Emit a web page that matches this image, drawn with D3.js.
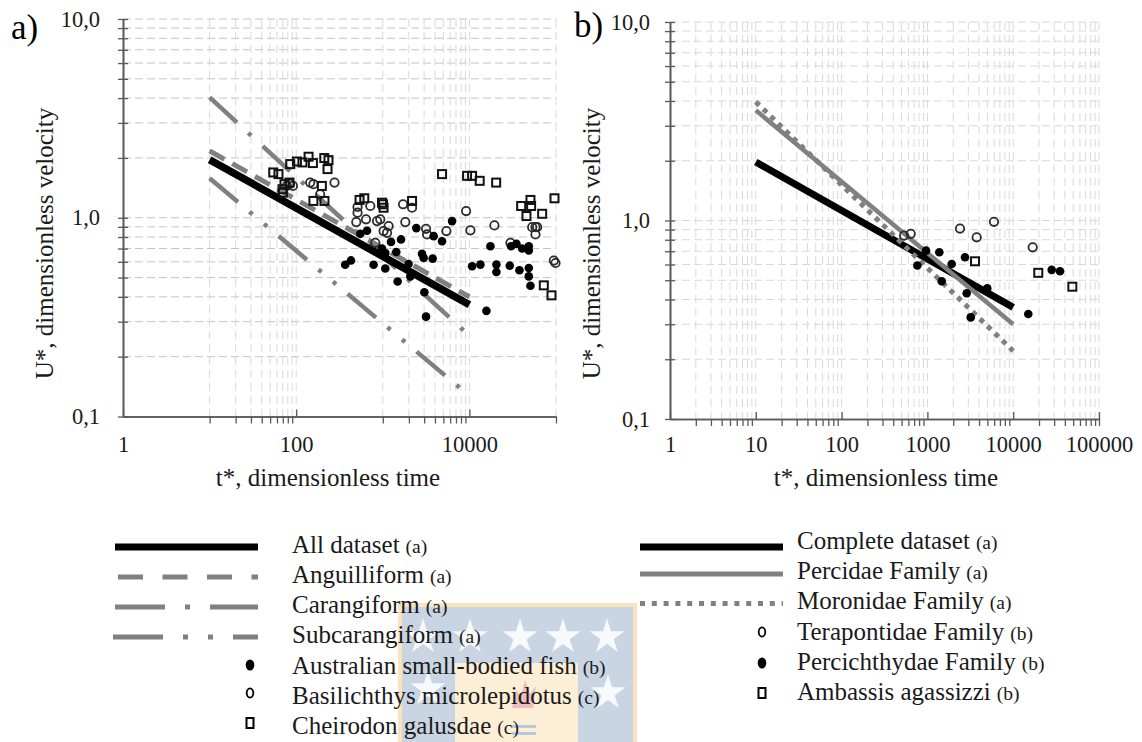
<!DOCTYPE html>
<html>
<head>
<meta charset="utf-8">
<script src="https://cdn.jsdelivr.net/npm/d3@7"></script>
<style>
  body { margin: 0; background: #fff; }
  svg text { font-family: "Liberation Serif", "DejaVu Serif", serif; }
</style>
</head>
<body>
<div id="chart"></div>
<script>
// ---- tick values / labels ----
const yTicks = [0.1, 1, 10];
const yTickLabels = ["0,1", "1,0", "10,0"];
const yGrid = [0.2, 0.3, 0.4, 0.5, 0.6, 0.7, 0.8, 0.9, 1, 2, 3, 4, 5, 6, 7, 8, 9, 10];
const xTicksA = [1, 100, 10000];
const xMinorA = [10, 20, 30, 40, 50, 60, 70, 80, 90, 1000, 2000, 3000, 4000, 5000, 6000, 7000, 8000, 9000, 100000];
const xTicksB = [1, 10, 100, 1000, 10000, 100000];

// ---- panel a: fitted lines [t*, U*] ----
const allDatasetLine = [[10, 1.96], [10000, 0.365]];
const anguilliformLine = [[10, 2.17], [10000, 0.40]];
const carangiformLine = [[10, 4.03], [10000, 0.255]];
const subcarangiformLine = [[10, 1.58], [10000, 0.127]];

// ---- panel a: observations [t*, U*] ----
const australianA = [[368, 0.58], [429, 0.61], [550, 0.83], [657, 0.86], [783, 0.58], [1069, 0.555], [979, 0.70],
  [1069, 0.665], [1244, 0.756], [1623, 0.778], [1432, 0.673], [1483, 0.478], [1986, 0.585], [2080, 0.507],
  [2438, 0.887], [2838, 0.658], [2963, 0.628], [3765, 0.623], [3866, 0.808], [4833, 0.762], [6310, 0.962],
  [3020, 0.422], [3155, 0.318], [10740, 0.57], [13400, 0.581], [15730, 0.34], [17500, 0.719], [20500, 0.581],
  [20500, 0.533], [29240, 0.574], [30340, 0.719], [34930, 0.739], [40640, 0.70], [48500, 0.719], [48500, 0.684],
  [37840, 0.544], [48500, 0.559], [48500, 0.507], [50700, 0.455]];
const basilichthys = [[78, 1.446], [85, 1.48], [91.6, 1.446], [145, 1.503], [158, 1.475], [189, 1.313], [277, 1.503],
  [511, 1.133], [511, 1.06], [717, 1.146], [640, 0.982], [494, 0.951], [857, 0.962], [935, 0.982], [1167, 0.908],
  [1021, 0.857], [1119, 0.84], [1714, 1.169], [2177, 1.123], [1820, 0.951], [3157, 0.88], [3245, 0.824],
  [5420, 0.857], [9160, 1.081], [10270, 0.864], [19450, 0.915], [53100, 0.897], [57900, 0.897], [60600, 0.897],
  [57900, 0.824], [819, 0.748], [29780, 0.748], [94400, 0.609], [98700, 0.592]];
const cheirodon = [[54.3, 1.69], [62.4, 1.658], [85.3, 1.862], [102, 1.919], [118, 1.898], [139, 2.028], [156, 1.884],
  [211, 1.997], [236, 1.95], [230, 1.757], [73.2, 1.476], [83.6, 1.503], [69.5, 1.392], [70.2, 1.338], [198, 1.446],
  [158, 1.215], [212, 1.215], [539, 1.229], [611, 1.253], [979, 1.191], [1005, 1.169], [1021, 1.123], [2177, 1.215],
  [4833, 1.658], [9400, 1.625], [10740, 1.625], [13150, 1.534], [20370, 1.503], [39600, 1.146], [50700, 1.229],
  [51600, 1.146], [45600, 1.02], [69200, 1.047], [96100, 1.253], [72300, 0.457], [88700, 0.407]];

// ---- panel b ----
const completeLine = [[10, 1.97], [10000, 0.365]];
const percidaeLine = [[10, 3.59], [10000, 0.30]];
const moronidaeLine = [[10, 3.96], [10000, 0.22]];
const terapontidae = [[534, 0.84], [639, 0.857], [2399, 0.911], [3755, 0.823], [5970, 0.985], [16870, 0.733]];
const percichthydae = [[763, 0.593], [964, 0.705], [1377, 0.692], [1919, 0.604], [2743, 0.653], [1468, 0.494],
  [2870, 0.43], [3199, 0.325], [4990, 0.455], [15000, 0.338], [28100, 0.564], [35100, 0.555]];
const ambassis = [[3590, 0.623], [19600, 0.545], [48900, 0.464]];

// ---- legends ----
const legendA = ["All dataset", "Anguilliform", "Carangiform", "Subcarangiform",
  "Australian small-bodied fish", "Basilichthys microlepidotus", "Cheirodon galusdae"];
const legendANotes = ["(a)", "(a)", "(a)", "(a)", "(b)", "(c)", "(c)"];
const legendB = ["Complete dataset", "Percidae Family", "Moronidae Family",
  "Terapontidae Family", "Percichthydae Family", "Ambassis agassizzi"];
const legendBNotes = ["(a)", "(a)", "(a)", "(b)", "(b)", "(b)"];

const svg = d3.select("#chart").append("svg")
  .attr("width", 1142).attr("height", 742)
  .style("background", "#fff");

const serif = "'Liberation Serif', 'DejaVu Serif', serif";
const axisColor = "#595959";
const textColor = "#1a1a1a";
const gray = "#808080";

const line = (x, y) => d3.line().x(d => x(d[0])).y(d => y(d[1]));

function drawPanel(p) {
  const x = d3.scaleLog().domain([1, 100000]).range(p.xRange);
  const y = d3.scaleLog().domain([0.1, 10]).range(p.yRange);
  const g = svg.append("g");

  // gridlines
  g.selectAll(".hgrid").data(yGrid).join("line")
    .attr("x1", x(1)).attr("x2", x(100000))
    .attr("y1", d => y(d)).attr("y2", d => y(d))
    .attr("stroke", p.hGridColor).attr("stroke-width", 1)
    .attr("stroke-dasharray", "8,4");
  g.selectAll(".vgrid").data(p.vGrid).join("line")
    .attr("x1", d => x(d)).attr("x2", d => x(d))
    .attr("y1", y(10)).attr("y2", y(0.1))
    .attr("stroke", "#d9d9d9").attr("stroke-width", 1)
    .attr("stroke-dasharray", "8,5");

  // x axis: minor ticks outside, major ticks inside
  const xa = g.append("g").attr("transform", `translate(0,${y(0.1)})`);
  xa.call(d3.axisBottom(x).tickValues(p.xMinor).tickSize(7).tickSizeOuter(0).tickFormat(""));
  xa.append("g").call(d3.axisBottom(x).tickValues(p.xMajor).tickSize(-7).tickSizeOuter(0).tickFormat(""));
  xa.selectAll(".domain").attr("stroke", axisColor).attr("stroke-width", 1.6);
  xa.selectAll(".tick line").attr("stroke", axisColor).attr("stroke-width", 1.3);

  // x tick labels
  const xl = g.append("g").attr("transform", `translate(0,${y(0.1)})`)
    .call(d3.axisBottom(x).tickValues(p.xMajor).tickFormat(d3.format("d")).tickSize(0).tickPadding(p.xPad));
  xl.select(".domain").remove();
  xl.attr("font-family", serif).attr("font-size", 22.5);
  xl.selectAll("text").attr("fill", textColor);

  // y axis: crossing ticks
  const ya = g.append("g").attr("transform", `translate(${x(1)},0)`);
  ya.call(d3.axisLeft(y).tickValues(yGrid.concat([0.1])).tickSize(5).tickSizeOuter(0).tickFormat(""));
  ya.append("g").call(d3.axisLeft(y).tickValues(yGrid.concat([0.1])).tickSize(-5).tickSizeOuter(0).tickFormat(""));
  ya.selectAll(".domain").attr("stroke", axisColor).attr("stroke-width", 1.6);
  ya.selectAll(".tick line").attr("stroke", axisColor).attr("stroke-width", 1.3);

  const yl = g.append("g").attr("transform", `translate(${x(1)},0)`)
    .call(d3.axisLeft(y).tickValues(yTicks).tickFormat((d, i) => yTickLabels[i]).tickSize(0).tickPadding(p.yPad));
  yl.select(".domain").remove();
  yl.attr("font-family", serif).attr("font-size", 22.5);
  yl.selectAll("text").attr("fill", textColor);

  // titles
  g.append("text").attr("x", p.xTitleX).attr("y", 486)
    .attr("text-anchor", "middle").attr("font-size", 25).attr("fill", textColor)
    .attr("font-family", serif)
    .text("t*, dimensionless time");
  g.append("text").attr("transform", `translate(${p.yTitleX},243.5) rotate(-90)`)
    .attr("text-anchor", "middle").attr("font-size", 25).attr("fill", textColor)
    .attr("font-family", serif)
    .text("U*, dimensionless velocity");
  g.append("text").attr("x", p.labelX).attr("y", p.labelY)
    .attr("font-size", 35).attr("fill", "#000").attr("font-family", serif).text(p.label);

  // fitted lines
  p.lines.forEach(l => {
    g.append("path").datum(l.data)
      .attr("d", line(x, y))
      .attr("fill", "none").attr("stroke", l.color)
      .attr("stroke-width", l.width)
      .attr("stroke-dasharray", l.dash || null);
  });

  // observations
  p.points.forEach(s => drawMarkers(g, s.data, s.type, d => x(d[0]), d => y(d[1])));
  return g;
}

function drawMarkers(g, data, type, fx, fy) {
  if (type === "filled") {
    g.selectAll(null).data(data).join("circle")
      .attr("cx", fx).attr("cy", fy).attr("r", 4.3).attr("fill", "#000");
  } else if (type === "open") {
    g.selectAll(null).data(data).join("circle")
      .attr("cx", fx).attr("cy", fy).attr("r", 4.2)
      .attr("fill", "none").attr("stroke", "#2b2b2b").attr("stroke-width", 1.8);
  } else {
    g.selectAll(null).data(data).join("rect")
      .attr("x", d => fx(d) - 4).attr("y", d => fy(d) - 4)
      .attr("width", 8).attr("height", 8)
      .attr("fill", "none").attr("stroke", "#111").attr("stroke-width", 2);
  }
}

drawPanel({
  xRange: [123, 556], yRange: [416.5, 19],
  hGridColor: "#c4c4c4",
  vGrid: xMinorA.concat([100, 10000]),
  xMinor: xMinorA, xMajor: xTicksA,
  xPad: 20, yPad: 23,
  xTitleX: 328, yTitleX: 53,
  label: "a)", labelX: 11, labelY: 39,
  lines: [
    { data: anguilliformLine, color: gray, width: 5, dash: "17,9" },
    { data: carangiformLine, color: gray, width: 4.5, dash: "37,15.5,4,15.5" },
    { data: subcarangiformLine, color: gray, width: 4.5, dash: "37,15,4,15,4,15" },
    { data: allDatasetLine, color: "#000", width: 7.5 }
  ],
  points: [
    { data: basilichthys, type: "open" },
    { data: cheirodon, type: "square" },
    { data: australianA, type: "filled" }
  ]
});

const xMinorB = d3.scaleLog().domain([1, 100000]).ticks().filter(d => !xTicksB.includes(d));
drawPanel({
  xRange: [670, 1099], yRange: [419, 22],
  hGridColor: "#d9d9d9",
  vGrid: xMinorB.concat(xTicksB.slice(1)),
  xMinor: xMinorB.concat([100000]), xMajor: xTicksB,
  xPad: 17, yPad: 20,
  xTitleX: 886, yTitleX: 600,
  label: "b)", labelX: 574, labelY: 37,
  lines: [
    { data: completeLine, color: "#000", width: 7 },
    { data: percidaeLine, color: gray, width: 4.5 },
    { data: moronidaeLine, color: gray, width: 5, dash: "5,5.4" }
  ],
  points: [
    { data: terapontidae, type: "open" },
    { data: percichthydae, type: "filled" },
    { data: ambassis, type: "square" }
  ]
});

// ---- watermark logo behind the legend ----
const logo = svg.append("g");
logo.append("rect").attr("x", 398).attr("y", 603).attr("width", 239).attr("height", 139).attr("fill", "#fbe3bd");
logo.append("rect").attr("x", 402).attr("y", 607).attr("width", 231).attr("height", 135).attr("fill", "#c9d5e3");
logo.append("rect").attr("x", 455).attr("y", 663).attr("width", 123).attr("height", 79).attr("fill", "#fdeed6");
[[423, 637], [470, 637], [520, 637], [563, 637], [607, 637], [428, 689], [608, 693]].forEach(c => {
  logo.append("path").attr("d", d3.symbol(d3.symbolStar, 380)())
    .attr("transform", `translate(${c[0]},${c[1]})`).attr("fill", "#fff").attr("opacity", 0.85);
});
logo.append("path").attr("d", "M512,708 L516,690 L521,697 L525,680 L530,694 L536,686 L533,708 Z")
  .attr("fill", "#eab0bd").attr("opacity", 0.8);
logo.append("rect").attr("x", 512).attr("y", 725).attr("width", 24).attr("height", 3).attr("fill", "#b9c8dc");
logo.append("rect").attr("x", 512).attr("y", 732).attr("width", 24).attr("height", 3).attr("fill", "#b9c8dc");

// ---- legends ----
const legA = svg.append("g");
const legABase = [553, 583, 613, 643, 674, 704, 734];
const legAStyles = [
  { color: "#000", width: 7, dash: null, x1: 115 },
  { color: gray, width: 5, dash: "25,19.5", x1: 118 },
  { color: gray, width: 5, dash: "50,20,5,20", x1: 115 },
  { color: gray, width: 5, dash: "50,20,5,20,5,20", x1: 113 }
];
legAStyles.forEach((s, i) => {
  legA.append("line").attr("x1", s.x1).attr("x2", 258)
    .attr("y1", legABase[i] - 6).attr("y2", legABase[i] - 6)
    .attr("stroke", s.color).attr("stroke-width", s.width).attr("stroke-dasharray", s.dash);
});
legendMarker(legA, "filled", 250, 665);
legendMarker(legA, "open", 250, 693);
legendMarker(legA, "square", 250, 723);
legendA.forEach((t, i) => legendText(legA, 292, legABase[i], t, legendANotes[i]));

const legB = svg.append("g");
const legBBase = [549, 579, 609, 640, 670, 700];
[[547, "#000", 7, null], [574, gray, 5, null], [603.5, gray, 5, "5,6.8"]].forEach(s => {
  legB.append("line").attr("x1", 640).attr("x2", 783)
    .attr("y1", s[0]).attr("y2", s[0])
    .attr("stroke", s[1]).attr("stroke-width", s[2]).attr("stroke-dasharray", s[3]);
});
legendMarker(legB, "open", 762, 632);
legendMarker(legB, "filled", 762, 663);
legendMarker(legB, "square", 762, 693);
legendB.forEach((t, i) => legendText(legB, 797, legBBase[i], t, legendBNotes[i]));

function legendMarker(g, type, cx, cy) {
  if (type === "filled") {
    g.append("ellipse").attr("cx", cx).attr("cy", cy).attr("rx", 4.3).attr("ry", 5.5).attr("fill", "#000");
  } else if (type === "open") {
    g.append("ellipse").attr("cx", cx).attr("cy", cy).attr("rx", 3.3).attr("ry", 4.6)
      .attr("fill", "none").attr("stroke", "#000").attr("stroke-width", 1.8);
  } else {
    g.append("rect").attr("x", cx - 3.5).attr("y", cy - 5).attr("width", 7).attr("height", 10)
      .attr("fill", "none").attr("stroke", "#000").attr("stroke-width", 2);
  }
}

function legendText(g, x, y, label, note) {
  const t = g.append("text").attr("x", x).attr("y", y).attr("font-size", 25)
    .attr("fill", textColor).attr("font-family", serif);
  t.append("tspan").text(label);
  t.append("tspan").attr("font-size", 19.5).attr("dx", 6).text(note);
}
</script>
</body>
</html>
